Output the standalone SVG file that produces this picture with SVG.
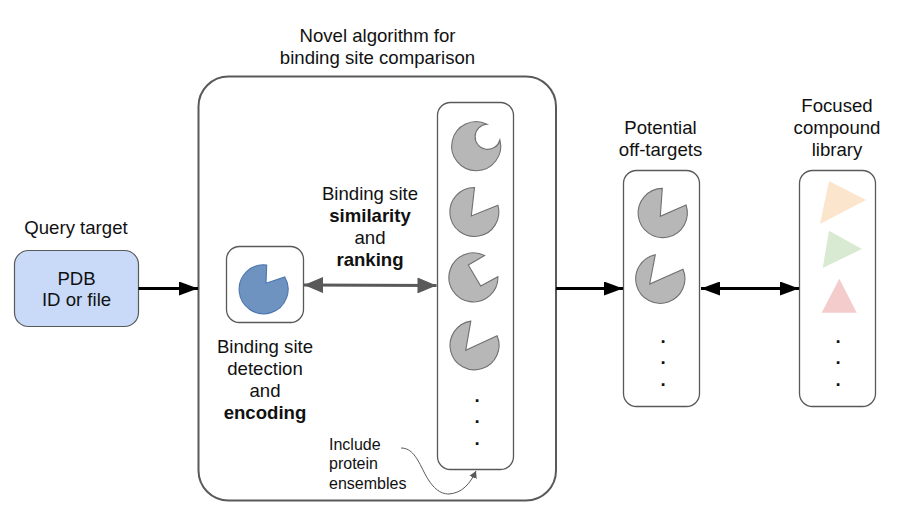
<svg xmlns="http://www.w3.org/2000/svg" width="912" height="528" viewBox="0 0 912 528">
<style>
text{font-family:"Liberation Sans",Arial,sans-serif;font-size:18.6px;fill:#111;text-anchor:middle}
.b{font-weight:bold}
.s{font-size:16px;text-anchor:start}
.box{fill:#fff;stroke:#595959;stroke-width:1.3}
.pie{fill:#b7b7b7;stroke:#707070;stroke-width:1.1}
.blue{fill:#6f93c0;stroke:#4a76ad;stroke-width:1.1}
.k{fill:none;stroke:#000;stroke-width:3}
.g{fill:none;stroke:#595959;stroke-width:3}
</style>
<defs>
<marker id="ah" markerUnits="userSpaceOnUse" markerWidth="20" markerHeight="14" refX="19" refY="7" orient="auto-start-reverse"><path d="M0 0L19 7L0 14Z" fill="#000"/></marker>
<marker id="ag" markerUnits="userSpaceOnUse" markerWidth="20" markerHeight="16" refX="19" refY="8" orient="auto-start-reverse"><path d="M0 0L19 8L0 16Z" fill="#595959"/></marker>
<marker id="as" markerUnits="userSpaceOnUse" markerWidth="8" markerHeight="8" refX="7" refY="4" orient="auto"><path d="M0 0L7 4L0 8Z" fill="#595959"/></marker>
</defs>
<g id="main-box"><rect class="box" x="198.500" y="76.500" width="357.500" height="424" rx="30" style="stroke-width:2"/></g>
<g id="title"><text x="377.500" y="42">Novel algorithm for</text><text x="377.500" y="64">binding site comparison</text></g>
<g id="query"><text x="76" y="234">Query target</text>
<rect x="14.500" y="250.500" width="124" height="76" rx="14" fill="#c9daf8" stroke="#595959" stroke-width="1.2"/>
<text x="76.500" y="285">PDB</text><text x="76.500" y="306">ID or file</text></g>
<g id="encoder"><rect class="box" x="226.500" y="246.500" width="77" height="76" rx="13"/>
<path class="blue" d="M266.700 265A24.500 24.500 0 1 0 284.800 277L266 283.300Z"/>
<text x="265" y="353">Binding site</text><text x="265" y="375">detection</text><text x="265" y="397">and</text><text class="b" x="265" y="419">encoding</text></g>
<g id="similarity"><text x="370" y="200">Binding site</text><text class="b" x="370" y="222">similarity</text><text x="370" y="244">and</text><text class="b" x="370" y="266">ranking</text></g>
<g id="ensemble"><rect class="box" x="437.500" y="102.500" width="76" height="367" rx="13"/>
<path class="pie" d="M487 124.200A24.500 24.500 0 1 0 499.900 140A12.600 12.600 0 1 1 487 124.200Z"/>
<path class="pie" d="M474.500 187.500A24.500 24.500 0 1 0 497.900 205.200L471.300 216Z"/>
<path class="pie" d="M484.600 255.600A24.500 24.500 0 1 0 497.900 276.700L480.700 286L468.300 265Z"/>
<path class="pie" d="M470.800 321.100A24.500 24.500 0 1 0 497.100 335.800L465.700 350.300Z"/>
<text class="b" x="477" y="402">.</text><text class="b" x="477" y="423">.</text><text class="b" x="477" y="445">.</text></g>
<g id="ensembles-note"><text class="s" x="329" y="450">Include</text><text class="s" x="329" y="469">protein</text><text class="s" x="329" y="489">ensembles</text></g>
<g id="off-targets"><text x="660.500" y="134">Potential</text><text x="660.500" y="156">off-targets</text>
<rect class="box" x="623.500" y="170.500" width="76" height="236" rx="13"/>
<path class="pie" d="M662.300 188.400A24.600 24.600 0 1 0 686 205L660.300 216.300Z"/>
<path class="pie" d="M655.300 254.700A24.600 24.600 0 1 0 683 269.300L649.700 284Z"/>
<text class="b" x="663" y="343">.</text><text class="b" x="663" y="364">.</text><text class="b" x="663" y="386">.</text></g>
<g id="library"><text x="837" y="112">Focused</text><text x="837" y="134">compound</text><text x="837" y="156">library</text>
<rect class="box" x="799.500" y="170.500" width="76" height="236" rx="13"/>
<path d="M829 181L866 200L820 224Z" fill="#fce5cd"/>
<path d="M829 230.700L862 249L822.700 268Z" fill="#d9ead3"/>
<path d="M839.300 278.700L856.700 312.700L821.700 312.700Z" fill="#f4cccc"/>
<text class="b" x="838" y="343">.</text><text class="b" x="838" y="364">.</text><text class="b" x="838" y="386">.</text></g>
<g id="connectors">
<path class="k" d="M138.500 288.500H198" marker-end="url(#ah)"/>
<path class="g" d="M304 285L436.500 285.500" marker-start="url(#ag)" marker-end="url(#ag)"/>
<path class="k" d="M556 288.500H623" marker-end="url(#ah)"/>
<path class="k" d="M701 288.500H799" marker-start="url(#ah)" marker-end="url(#ah)"/>
<path d="M401 448C412 448 417 458 424 472C432 488 440 494 449 494C462 493 470 484 476 471" fill="none" stroke="#595959" stroke-width="1" marker-end="url(#as)"/>
</g>
</svg>
